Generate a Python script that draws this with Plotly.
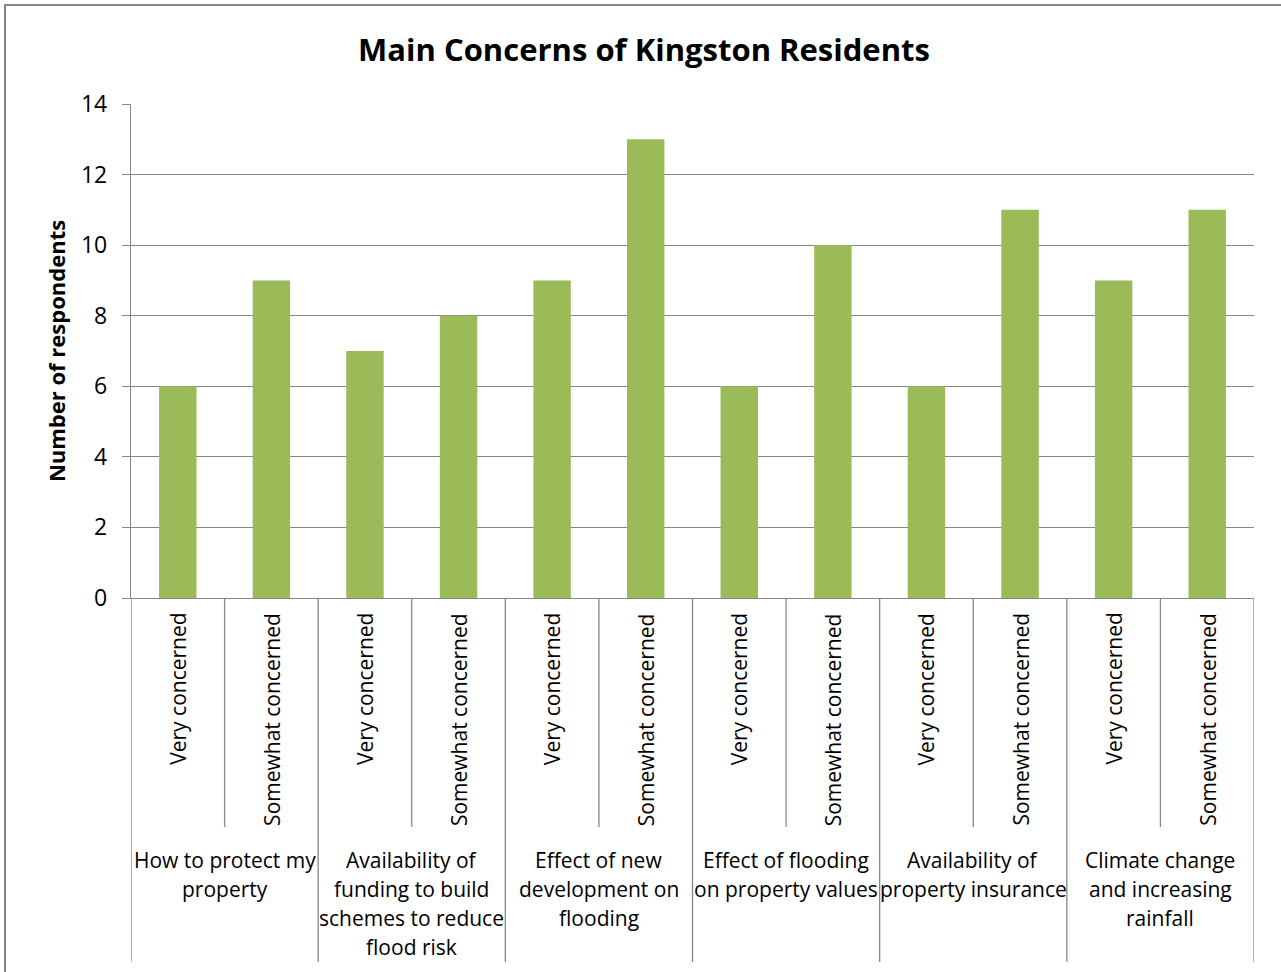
import plotly.graph_objects as go

groups = ["How to protect my<br>property",
          "Availability of<br>funding to build<br>schemes to reduce<br>flood risk",
          "Effect of new<br>development on<br>flooding",
          "Effect of flooding<br>on property values",
          "Availability of<br>property insurance",
          "Climate change<br>and increasing<br>rainfall"]
levels = ["Very concerned", "Somewhat concerned"]
values = [6, 9, 7, 8, 9, 13, 6, 10, 6, 11, 9, 11]
y_ticks = [0, 2, 4, 6, 8, 10, 12, 14]

W, H = 1281, 972
L, R, T, B = 131, 1254, 104, 598
FONT = "Open Sans"
GREY = "#868686"

def py(p):
    return (B - p) / (B - T)

def px(p):
    return (p - L) / (R - L)

xs = list(range(len(values)))
fig = go.Figure(go.Bar(x=xs, y=values, width=0.4, marker=dict(color="#9BBB59", line=dict(width=0))))

shapes = []
annotations = []
# outer chart border
shapes.append(dict(type="rect", xref="paper", yref="paper",
                   x0=px(5), x1=px(1281 + 5), y0=py(5), y1=py(972 + 5),
                   line=dict(color=GREY, width=2), fillcolor="rgba(0,0,0,0)", layer="below"))
# category dividers
shapes.append(dict(type="line", xref="x", yref="paper", x0=-0.5, x1=-0.5, y0=0, y1=py(962),
                   line=dict(color=GREY, width=1.3)))
for i in range(len(values)):
    end = 962 if i % 2 == 1 else 827
    shapes.append(dict(type="line", xref="x", yref="paper", x0=i + 0.5, x1=i + 0.5, y0=0, y1=py(end),
                       line=dict(color=GREY, width=1.3)))
# inner labels
for i in range(len(values)):
    annotations.append(dict(x=i, y=py(611), xref="x", yref="paper", text=levels[i % 2],
                            textangle=-90, showarrow=False, xanchor="center", yanchor="top",
                            font=dict(family=FONT, size=21, color="black")))
# group labels (one annotation per line for Excel-like line spacing)
for g, lab in enumerate(groups):
    for k, line in enumerate(lab.split("<br>")):
        annotations.append(dict(x=2 * g + 0.5, y=py(860 + 29 * k), xref="x", yref="paper", text=line,
                                showarrow=False, xanchor="center", yanchor="middle", align="center",
                                font=dict(family=FONT, size=21, color="black")))

fig.update_layout(
    width=W, height=H,
    margin=dict(l=L, r=W - R, t=T, b=H - B, pad=0),
    paper_bgcolor="white", plot_bgcolor="white",
    title=dict(text="<b>Main Concerns of Kingston Residents</b>", x=(358 + 930) / 2 / W, xanchor="center",
               y=1 - 50 / H, yanchor="middle", font=dict(family=FONT, size=31, color="black")),
    font=dict(family=FONT, color="black"),
    showlegend=False,
    bargap=0.6,
    xaxis=dict(range=[-0.5, len(values) - 0.5], showticklabels=False, showgrid=False, zeroline=False,
               showline=True, linecolor=GREY, linewidth=1.3, ticks=""),
    yaxis=dict(range=[0, 14], tickvals=y_ticks, ticktext=[str(v) for v in y_ticks],
               showgrid=True, gridcolor=GREY, gridwidth=1.3, zeroline=False,
               showline=True, linecolor=GREY, linewidth=1.3, ticks="outside", ticklen=8,
               tickcolor=GREY, tickwidth=1.3, tickfont=dict(family=FONT, size=23, color="black"),
               ticklabelstandoff=10,
               title=dict(text="<b>Number of respondents</b>", font=dict(family=FONT, size=22, color="black"),
                          standoff=9)),
    shapes=shapes, annotations=annotations,
)
fig.write_html("out.html")
